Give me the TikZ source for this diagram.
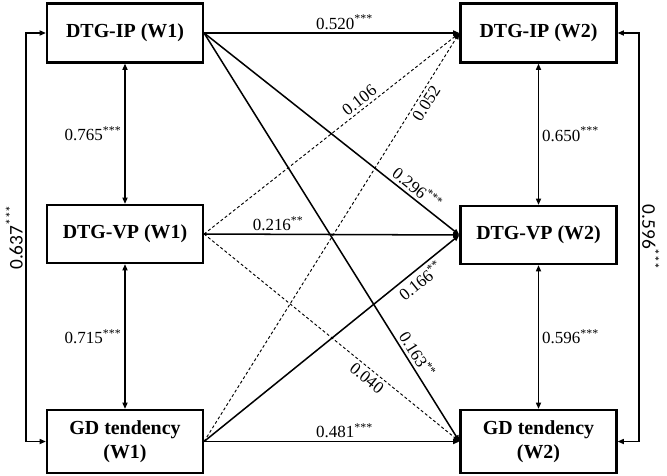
\documentclass[tikz,border=0pt]{standalone}
\usepackage{fontspec}
\setmainfont{Liberation Serif}
\newfontfamily\corrfont{Carlito}
\usetikzlibrary{arrows.meta, positioning}
\tikzset{varbox/.style = {draw,line width=1.8pt,minimum width=4.68cm,minimum height=#1,align=center,font=\fontsize{17}{20}\selectfont\bfseries}}
\tikzset{coef/.style = {font=\fontsize{14.5}{16}\selectfont,inner sep=2.5pt}}
\tikzset{stabcoef/.style = {font=\corrfont\fontsize{16.5}{18}\selectfont,inner sep=2pt}}
\tikzset{effect/.style = {line width=1.3pt,-{Triangle[length=1.9mm,width=1.5mm]}}}
\tikzset{nseffect/.style = {effect,line width=0.8pt,dash pattern=on 2.5pt off 2pt}}
\tikzset{corr/.style = {line width=1.3pt,{Triangle[length=1.9mm,width=1.5mm]}-{Triangle[length=1.9mm,width=1.5mm]}}}
\NewDocumentCommand{\coef}{m m}{#1\textsuperscript{#2}}
\begin{document}
\begin{tikzpicture}[x=0.03cm,y=-0.03cm]
\useasboundingbox (0,0) rectangle (667,476);
\node[varbox=1.77cm] (ip1) at (125,33) {DTG-IP (W1)};
\node[varbox=1.74cm] (vp1) at (125,234) {DTG-VP (W1)};
\node[varbox=1.89cm] (gd1) at (125,441.5) {GD tendency\\(W1)};
\node[varbox=1.77cm] (ip2) at (538.5,33) {DTG-IP (W2)};
\node[varbox=1.74cm] (vp2) at (538.5,235) {DTG-VP (W2)};
\node[varbox=1.89cm] (gd2) at (538.5,441.5) {GD tendency\\(W2)};
\coordinate (lx) at (26,0);
\coordinate (rx) at (639,0);

\draw[effect] (ip1.east) -- node[coef,above,pos=0.55]{\coef{0.520}{***}} (ip2.west);
\draw[effect] (ip1.east) -- node[coef,sloped,above,pos=0.81]{\coef{0.296}{***}} (vp2.west);
\draw[effect] (ip1.east) -- node[coef,sloped,above,pos=0.8]{\coef{0.163}{**}} (gd2.west);
\draw[nseffect] (vp1.east) -- node[coef,sloped,above,pos=0.63]{0.106} (ip2.west);
\draw[effect] (vp1.east) -- node[coef,above,pos=0.29]{\coef{0.216}{**}} (vp2.west);
\draw[nseffect] (vp1.east) -- node[coef,sloped,below,pos=0.66]{0.040} (gd2.west);
\draw[nseffect] (gd1.east) -- node[coef,sloped,below,pos=0.84]{0.052} (ip2.west);
\draw[effect] (gd1.east) -- node[coef,sloped,below,pos=0.82]{\coef{0.166}{**}} (vp2.west);
\draw[effect] (gd1.east) -- node[coef,above,pos=0.55]{\coef{0.481}{***}} (gd2.west);

\draw[corr] (ip1) -- node[coef,left]{\coef{0.765}{***}} (vp1);
\draw[corr] (vp1) -- node[coef,left]{\coef{0.715}{***}} (gd1);
\draw[corr] (ip2) -- node[coef,right]{\coef{0.650}{***}} (vp2);
\draw[corr] (vp2) -- node[coef,right]{\coef{0.596}{***}} (gd2);

\draw[corr] (ip1.west) -- (ip1.west -| lx) -- node[stabcoef,rotate=90,above]{\coef{0.637}{***}} (gd1.west -| lx) -- (gd1.west);
\draw[corr] (ip2.east) -- (ip2.east -| rx) -- node[stabcoef,rotate=-90,above]{\coef{0.596}{***}} (gd2.east -| rx) -- (gd2.east);
\end{tikzpicture}
\end{document}
